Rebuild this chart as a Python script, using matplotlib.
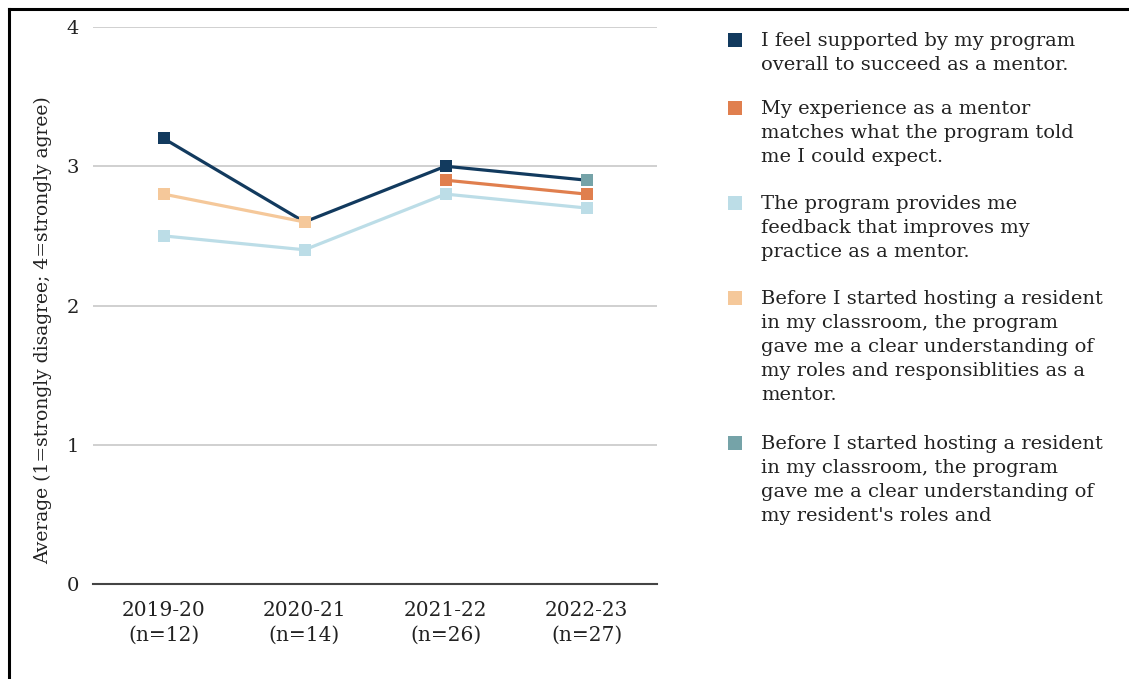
import numpy as np
import matplotlib
matplotlib.use("Agg")
import matplotlib.pyplot as plt
from matplotlib.lines import Line2D
from matplotlib.patches import Rectangle

plt.rcParams['font.family'] = ['DejaVu Serif']

years = ["2019-20\n(n=12)", "2020-21\n(n=14)", "2021-22\n(n=26)", "2022-23\n(n=27)"]

labels = [
    "I feel supported by my program\noverall to succeed as a mentor.",
    "My experience as a mentor\nmatches what the program told\nme I could expect.",
    "The program provides me\nfeedback that improves my\npractice as a mentor.",
    "Before I started hosting a resident\nin my classroom, the program\ngave me a clear understanding of\nmy roles and responsiblities as a\nmentor.",
    "Before I started hosting a resident\nin my classroom, the program\ngave me a clear understanding of\nmy resident's roles and",
]

supported = [3.2, 2.6, 3.0, 2.9]
expectations = [np.nan, np.nan, 2.9, 2.8]
feedback = [2.5, 2.4, 2.8, 2.7]
own_roles = [2.8, 2.6, np.nan, np.nan]
resident_roles = [np.nan, np.nan, np.nan, 2.9]

series = [supported, expectations, feedback, own_roles, resident_roles]
colors = ["#123a5e", "#e07f4e", "#bcdde7", "#f5c89a", "#75a3a8"]

W, H = 1129, 679
fig = plt.figure(figsize=(W / 100, H / 100), dpi=100)
ax = fig.add_axes([93 / W, 1 - 584 / H, (657 - 93) / W, (584 - 27) / H])

x = np.arange(len(years))
for vals, c in zip(series, colors):
    ax.plot(x, vals, color=c, lw=2.3, marker="s", markersize=9.3,
            markeredgewidth=0, solid_joinstyle="miter")

ax.set_xlim(-0.5, 3.5)
ax.set_ylim(0, 4)
ax.set_yticks([0, 1, 2, 3, 4])
ax.set_xticks(x)
ax.set_xticklabels(years, fontsize=14.5, linespacing=1.4)
ax.tick_params(axis="both", length=0, colors="#222222")
ax.tick_params(axis="y", labelsize=14)
ax.tick_params(axis="x", pad=12)
ax.tick_params(axis="y", pad=10)
ax.grid(axis="y", color="#c8c8c8", lw=1.2)
ax.set_axisbelow(True)
for s in ["top", "right", "left"]:
    ax.spines[s].set_visible(False)
ax.spines["bottom"].set_color("#444444")
ax.spines["bottom"].set_linewidth(1.5)
ax.set_ylabel("Average (1=strongly disagree; 4=strongly agree)", fontsize=13.5,
              color="#222222")
ax.yaxis.set_label_coords(-0.072, 0.455)

# legend drawn entry by entry (first-line centres in pixels)
centres = [40, 108, 203, 298, 443]
for lab, c, yc in zip(labels, colors, centres):
    fig.add_artist(Rectangle((728 / W, 1 - (yc + 7) / H), 14 / W, 14 / H,
                             transform=fig.transFigure, color=c, lw=0))
    fig.text(761 / W, 1 - (yc - 8) / H, lab, fontsize=14, va="top", ha="left",
             color="#222222", linespacing=1.43)

# outer frame
fig.add_artist(Line2D([9 / W, 9 / W], [0, 1 - 9 / H], color="black", lw=2.2,
                      transform=fig.transFigure))
fig.add_artist(Line2D([9 / W, 1], [1 - 9 / H, 1 - 9 / H], color="black", lw=2.2,
                      transform=fig.transFigure))

fig.savefig("out.png", dpi=100)
